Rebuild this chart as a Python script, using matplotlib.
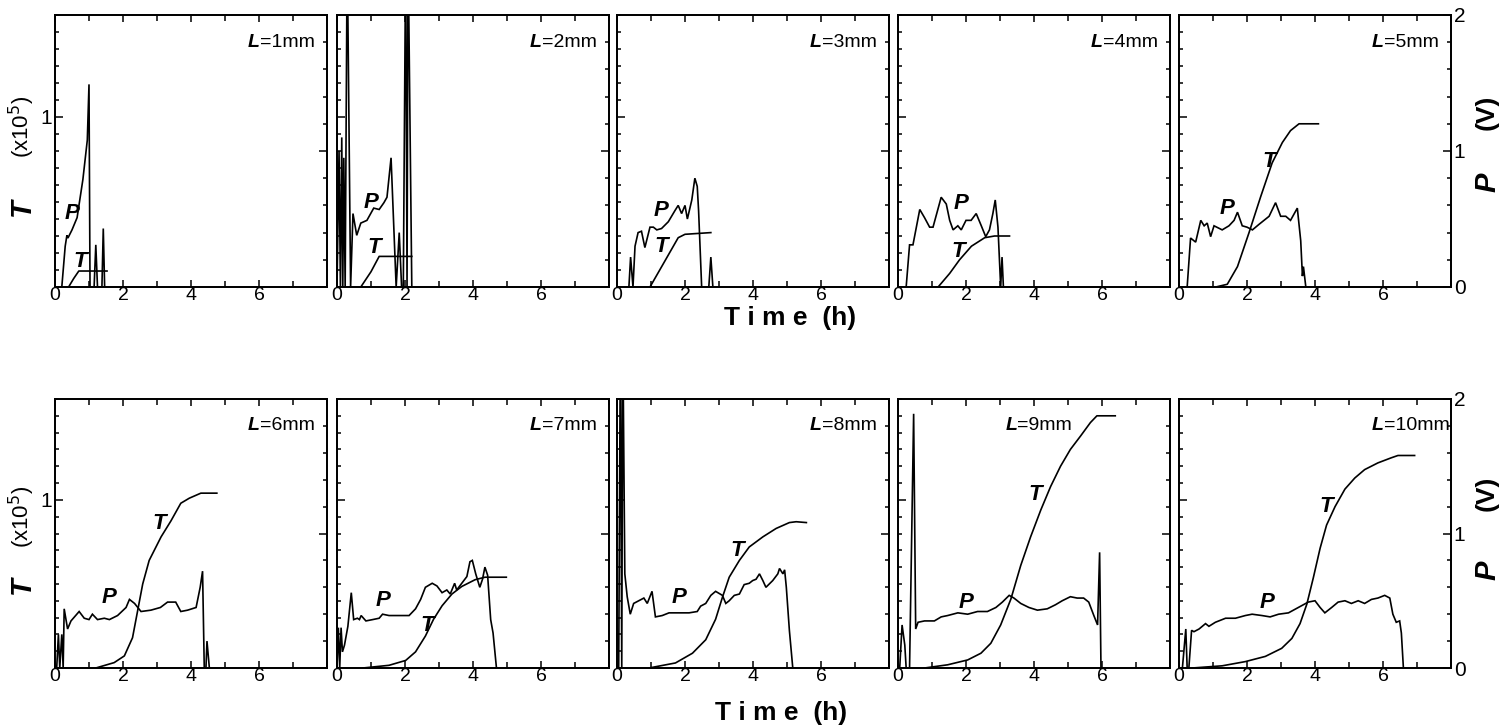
import matplotlib
matplotlib.use('Agg')
import matplotlib.pyplot as plt
from matplotlib.ticker import MultipleLocator, FixedLocator

plt.rcParams['font.family'] = ['Liberation Sans', 'DejaVu Sans']

# ---------------- data (time in h, T in 1e5, P in V) ----------------
L_labels = ['1', '2', '3', '4', '5', '6', '7', '8', '9', '10']

p1_h = [0.2, 0.3, 0.35, 0.38, 0.5, 0.65, 0.82, 0.95, 1.0, 1.03, 1.15, 1.2, 1.25, 1.38, 1.42, 1.46, 1.5]
p1_v = [0, 0.3, 0.38, 0.36, 0.42, 0.51, 0.79, 1.08, 1.49, 0, 0, 0.31, 0, 0, 0.43, 0, 0]
t1_h = [0.4, 0.55, 0.7, 1.53]
t1_v = [0, 0.05, 0.094, 0.094]

p2_h = [0.0, 0.06, 0.1, 0.14, 0.17, 0.2, 0.24, 0.3, 0.4, 0.47, 0.58, 0.7, 0.88, 1.08, 1.24, 1.38,
        1.47, 1.59, 1.74, 1.83, 1.9, 1.95, 2.02, 2.06, 2.09, 2.2]
p2_v = [0, 1.0, 0, 1.1, 0, 0.95, 0, 2.5, 0, 0.54, 0.38, 0.47, 0.49, 0.58, 0.57, 0.62,
        0.66, 0.95, 0, 0.4, 0, 0, 2.5, 0, 2.5, 0]
t2_h = [0.7, 1.0, 1.24, 2.2]
t2_v = [0, 0.09, 0.18, 0.18]

p3_h = [0.35, 0.4, 0.47, 0.53, 0.62, 0.72, 0.82, 0.97, 1.07, 1.17, 1.31, 1.51, 1.7, 1.8, 1.9, 2.0,
        2.07, 2.2, 2.29, 2.36, 2.4, 2.49, 2.7, 2.76, 2.82]
p3_v = [0, 0.22, 0, 0.3, 0.4, 0.41, 0.29, 0.44, 0.44, 0.42, 0.43, 0.48, 0.56, 0.6, 0.54, 0.6,
        0.5, 0.64, 0.8, 0.74, 0.56, 0, 0, 0.22, 0]
t3_h = [0.97, 1.4, 1.8, 2.0, 2.76]
t3_v = [0, 0.15, 0.29, 0.31, 0.32]

p4_h = [0.24, 0.34, 0.44, 0.64, 0.78, 0.93, 1.03, 1.27, 1.42, 1.52, 1.62, 1.76, 1.86, 2.0, 2.15, 2.3,
        2.45, 2.58, 2.69, 2.79, 2.86, 2.94, 3.02, 3.06, 3.1]
p4_v = [0, 0.31, 0.31, 0.57, 0.51, 0.44, 0.44, 0.66, 0.61, 0.49, 0.42, 0.45, 0.42, 0.49, 0.49, 0.54,
        0.45, 0.37, 0.42, 0.54, 0.64, 0.44, 0, 0.22, 0]
t4_h = [1.18, 1.52, 1.81, 2.16, 2.55, 2.84, 3.28]
t4_v = [0, 0.08, 0.16, 0.24, 0.29, 0.3, 0.3]

p5_h = [0.24, 0.34, 0.49, 0.64, 0.74, 0.83, 0.93, 1.03, 1.27, 1.47, 1.62, 1.72, 1.86, 2.0, 2.16,
        2.35, 2.65, 2.84, 2.99, 3.14, 3.28, 3.48, 3.58, 3.63, 3.66, 3.73]
p5_v = [0, 0.36, 0.33, 0.49, 0.45, 0.47, 0.37, 0.45, 0.42, 0.45, 0.49, 0.55, 0.45, 0.44, 0.42,
        0.46, 0.52, 0.62, 0.52, 0.52, 0.49, 0.58, 0.34, 0.08, 0.15, 0]
t5_h = [1.08, 1.42, 1.72, 2.06, 2.4, 2.74, 3.04, 3.28, 3.53, 4.1]
t5_v = [0, 0.016, 0.12, 0.32, 0.53, 0.73, 0.85, 0.92, 0.96, 0.96]

p6_h = [0.05, 0.1, 0.14, 0.2, 0.24, 0.27, 0.37, 0.47, 0.71, 0.86, 1.0, 1.1, 1.25, 1.45, 1.6, 1.84,
        2.09, 2.19, 2.34, 2.53, 2.82, 3.1, 3.31, 3.55, 3.7, 3.9, 4.15, 4.27, 4.34, 4.39, 4.44, 4.47, 4.54]
p6_v = [0, 0.25, 0, 0.25, 0, 0.44, 0.29, 0.35, 0.42, 0.37, 0.36, 0.4, 0.36, 0.37, 0.36, 0.39,
        0.45, 0.51, 0.48, 0.42, 0.43, 0.45, 0.49, 0.49, 0.42, 0.43, 0.45, 0.6, 0.72, 0, 0, 0.2, 0]
t6_h = [1.2, 1.74, 2.04, 2.28, 2.43, 2.58, 2.77, 3.12, 3.41, 3.7, 3.95, 4.29, 4.76]
t6_v = [0, 0.032, 0.072, 0.18, 0.34, 0.5, 0.64, 0.78, 0.875, 0.98, 1.01, 1.04, 1.04]

p7_h = [0.0, 0.04, 0.08, 0.12, 0.16, 0.22, 0.32, 0.42, 0.49, 0.6, 0.66, 0.71, 0.85, 1.05, 1.24, 1.34,
        1.53, 1.73, 2.12, 2.31, 2.46, 2.6, 2.8, 2.94, 3.09, 3.23, 3.33, 3.46, 3.52, 3.67, 3.82, 3.91,
        3.98, 4.08, 4.2, 4.28, 4.35, 4.43, 4.52, 4.59, 4.69]
p7_v = [0, 0.3, 0, 0.3, 0.12, 0.17, 0.31, 0.56, 0.36, 0.37, 0.36, 0.39, 0.35, 0.36, 0.37, 0.4,
        0.39, 0.39, 0.39, 0.44, 0.51, 0.6, 0.63, 0.61, 0.56, 0.58, 0.55, 0.63, 0.58, 0.63, 0.68, 0.79,
        0.8, 0.7, 0.6, 0.66, 0.75, 0.69, 0.36, 0.26, 0]
t7_h = [0.76, 1.53, 2.02, 2.31, 2.6, 2.84, 3.09, 3.38, 3.67, 4.06, 4.35, 4.98]
t7_v = [0, 0.016, 0.045, 0.096, 0.19, 0.29, 0.37, 0.44, 0.485, 0.525, 0.54, 0.54]

p8_h = [0.05, 0.1, 0.14, 0.17, 0.23, 0.3, 0.39, 0.49, 0.64, 0.79, 0.89, 1.03, 1.13, 1.33, 1.53, 1.82,
        2.12, 2.36, 2.46, 2.61, 2.76, 2.9, 3.1, 3.2, 3.3, 3.45, 3.6, 3.74, 3.89, 3.99, 4.09, 4.19,
        4.29, 4.38, 4.58, 4.73, 4.78, 4.88, 4.93, 4.98, 5.07, 5.17]
p8_v = [0, 2.5, 0, 2.5, 0.7, 0.53, 0.4, 0.48, 0.5, 0.52, 0.48, 0.57, 0.38, 0.39, 0.41, 0.41,
        0.41, 0.42, 0.46, 0.48, 0.54, 0.57, 0.54, 0.48, 0.5, 0.54, 0.55, 0.62, 0.63, 0.65, 0.66, 0.7,
        0.65, 0.6, 0.65, 0.7, 0.74, 0.7, 0.73, 0.6, 0.28, 0]
t8_h = [0.94, 1.72, 2.22, 2.61, 2.9, 3.1, 3.3, 3.6, 3.89, 4.29, 4.68, 5.07, 5.27, 5.57]
t8_v = [0, 0.03, 0.088, 0.168, 0.29, 0.42, 0.54, 0.64, 0.72, 0.78, 0.83, 0.865, 0.87, 0.865]

p9_h = [0.05, 0.12, 0.2, 0.24, 0.34, 0.46, 0.52, 0.59, 0.78, 1.07, 1.27, 1.46, 1.76, 2.05, 2.34, 2.63,
        2.88, 3.07, 3.27, 3.41, 3.61, 3.85, 4.1, 4.39, 4.63, 4.83, 5.07, 5.27, 5.46, 5.61, 5.76, 5.87,
        5.93, 5.97]
p9_v = [0, 0.32, 0.17, 0, 0, 1.89, 0.29, 0.34, 0.35, 0.35, 0.38, 0.39, 0.41, 0.4, 0.42, 0.42,
        0.45, 0.49, 0.54, 0.52, 0.48, 0.45, 0.43, 0.44, 0.47, 0.5, 0.53, 0.52, 0.52, 0.49, 0.39, 0.32,
        0.86, 0]
t9_h = [0.78, 1.46, 2.05, 2.44, 2.73, 3.02, 3.32, 3.61, 3.9, 4.2, 4.49, 4.78, 5.07, 5.37, 5.66, 5.85, 6.39]
t9_v = [0, 0.019, 0.048, 0.088, 0.147, 0.256, 0.41, 0.61, 0.78, 0.94, 1.08, 1.2, 1.3, 1.38, 1.46, 1.5, 1.5]

p10_h = [0.1, 0.2, 0.24, 0.29, 0.37, 0.44, 0.59, 0.78, 0.88, 1.07, 1.37, 1.66, 1.95, 2.15, 2.44, 2.68,
         2.93, 3.22, 3.51, 3.8, 4.0, 4.15, 4.29, 4.49, 4.68, 4.88, 5.07, 5.27, 5.46, 5.66, 5.85, 6.05,
         6.2, 6.29, 6.39, 6.49, 6.54, 6.6]
p10_v = [0, 0.29, 0, 0, 0.28, 0.27, 0.29, 0.33, 0.31, 0.34, 0.37, 0.37, 0.39, 0.4, 0.39, 0.38,
         0.4, 0.41, 0.45, 0.49, 0.5, 0.45, 0.41, 0.45, 0.49, 0.5, 0.48, 0.5, 0.48, 0.51, 0.52, 0.54,
         0.52, 0.4, 0.34, 0.35, 0.26, 0]
t10_h = [0.39, 1.27, 1.95, 2.54, 3.02, 3.32, 3.56, 3.76, 3.95, 4.15, 4.34, 4.59, 4.88, 5.17, 5.46, 5.85,
         6.24, 6.44, 6.93]
t10_v = [0, 0.013, 0.038, 0.069, 0.117, 0.176, 0.264, 0.38, 0.536, 0.712, 0.85, 0.96, 1.064, 1.13,
         1.18, 1.22, 1.25, 1.264, 1.264]

# curve label anchor points (h, T-axis units)
plab_h = [0.49, 0.99, 1.31, 1.86, 1.42, 1.6, 1.34, 1.82, 2.0, 2.59]
plab_y = [0.435, 0.50, 0.45, 0.49, 0.46, 0.42, 0.40, 0.42, 0.39, 0.39]
tlab_h = [0.74, 1.09, 1.31, 1.76, 2.65, 3.07, 2.65, 3.55, 4.05, 4.34]
tlab_y = [0.15, 0.23, 0.237, 0.208, 0.737, 0.86, 0.25, 0.70, 1.03, 0.96]

x_ticks = [0, 2, 4, 6]
x_ticklabels = ['0', '2', '4', '6']

P_series = [(p1_h, p1_v), (p2_h, p2_v), (p3_h, p3_v), (p4_h, p4_v), (p5_h, p5_v),
            (p6_h, p6_v), (p7_h, p7_v), (p8_h, p8_v), (p9_h, p9_v), (p10_h, p10_v)]
T_series = [(t1_h, t1_v), (t2_h, t2_v), (t3_h, t3_v), (t4_h, t4_v), (t5_h, t5_v),
            (t6_h, t6_v), (t7_h, t7_v), (t8_h, t8_v), (t9_h, t9_v), (t10_h, t10_v)]

# ---------------- layout ----------------
W, H = 1503, 728
fig = plt.figure(figsize=(W / 100, H / 100), dpi=100)
lefts_px = [55, 337, 617, 898, 1179]
rows_px = [(15, 287), (399, 668)]
pw = 272
lab_x = [0.955] * 8 + [0.64, 0.995]

LW = 1.2
for i in range(10):
    r, c = divmod(i, 5)
    top, bot = rows_px[r]
    ax = fig.add_axes([lefts_px[c] / W, 1 - bot / H, pw / W, (bot - top) / H])
    ax2 = ax.twinx()
    ax.set_xlim(0, 8)
    ax.set_ylim(0, 1.6)
    ax2.set_ylim(0, 2)
    ph, pv = P_series[i]
    th, tv = T_series[i]
    ax2.plot(ph, pv, color='black', lw=LW, solid_joinstyle='miter')
    ax.plot(th, tv, color='black', lw=LW)
    ax.set_zorder(ax2.get_zorder() + 1)
    ax.patch.set_visible(False)

    for a in (ax, ax2):
        for s in a.spines.values():
            s.set_linewidth(1.3)

    ax.xaxis.set_major_locator(FixedLocator(x_ticks))
    ax.set_xticklabels(x_ticklabels)
    ax.xaxis.set_minor_locator(MultipleLocator(1))
    ax.yaxis.set_major_locator(FixedLocator([1]))
    ax.yaxis.set_minor_locator(MultipleLocator(0.1))
    ax2.yaxis.set_major_locator(FixedLocator([0, 1, 2]))
    ax2.yaxis.set_minor_locator(MultipleLocator(0.2))

    ax.tick_params(axis='x', which='both', direction='in', top=True, bottom=True,
                   labelsize=14, pad=0, width=1.1)
    ax.tick_params(axis='x', which='major', length=5)
    ax.tick_params(axis='x', which='minor', length=4)
    ax.tick_params(axis='y', which='both', direction='in', left=True, right=False,
                   labelleft=(c == 0), labelsize=15, pad=2, width=1.1)
    ax.tick_params(axis='y', which='major', length=6)
    ax.tick_params(axis='y', which='minor', length=3)
    ax2.tick_params(axis='y', which='both', direction='in', right=True, left=False,
                    labelright=(c == 4), labelsize=15, pad=2, width=1.1)
    ax2.tick_params(axis='y', which='major', length=6)
    ax2.tick_params(axis='y', which='minor', length=3)

    # L label
    t = ax.text(lab_x[i], 0.9, '=' + L_labels[i] + 'mm', transform=ax.transAxes,
                ha='right', va='center', fontsize=14)
    ax.annotate('L', xy=(0, 0.5), xycoords=t, ha='right', va='center',
                fontsize=14, fontweight='bold', style='italic')

    # curve labels
    ax.text(plab_h[i], plab_y[i], 'P', ha='center', va='center', fontsize=16,
            fontweight='bold', style='italic')
    ax.text(tlab_h[i], tlab_y[i], 'T', ha='center', va='center', fontsize=16,
            fontweight='bold', style='italic')

# axis titles
for (ty, xy_lab), (py, vy) in zip([(207, 127), (585, 517)], [(182, 112), (570, 493)]):
    fig.text(22 / W, 1 - ty / H, 'T', rotation=90, ha='center', va='center',
             fontsize=21, fontweight='bold', style='italic')
    fig.text(22 / W, 1 - xy_lab / H, '(x10$^5$)', rotation=90, ha='center', va='center',
             fontsize=16)
    fig.text(1487 / W, 1 - py / H, 'P', rotation=90, ha='center', va='center',
             fontsize=21, fontweight='bold', style='italic')
    fig.text(1487 / W, 1 - vy / H, '(V)', rotation=90, ha='center', va='center',
             fontsize=19, fontweight='bold')

fig.text(790 / W, 1 - 318 / H, 'T i m e  (h)', ha='center', va='center', fontsize=19,
         fontweight='bold')
fig.text(781 / W, 1 - 713 / H, 'T i m e  (h)', ha='center', va='center', fontsize=19,
         fontweight='bold')

fig.savefig('out.png', dpi=100)
